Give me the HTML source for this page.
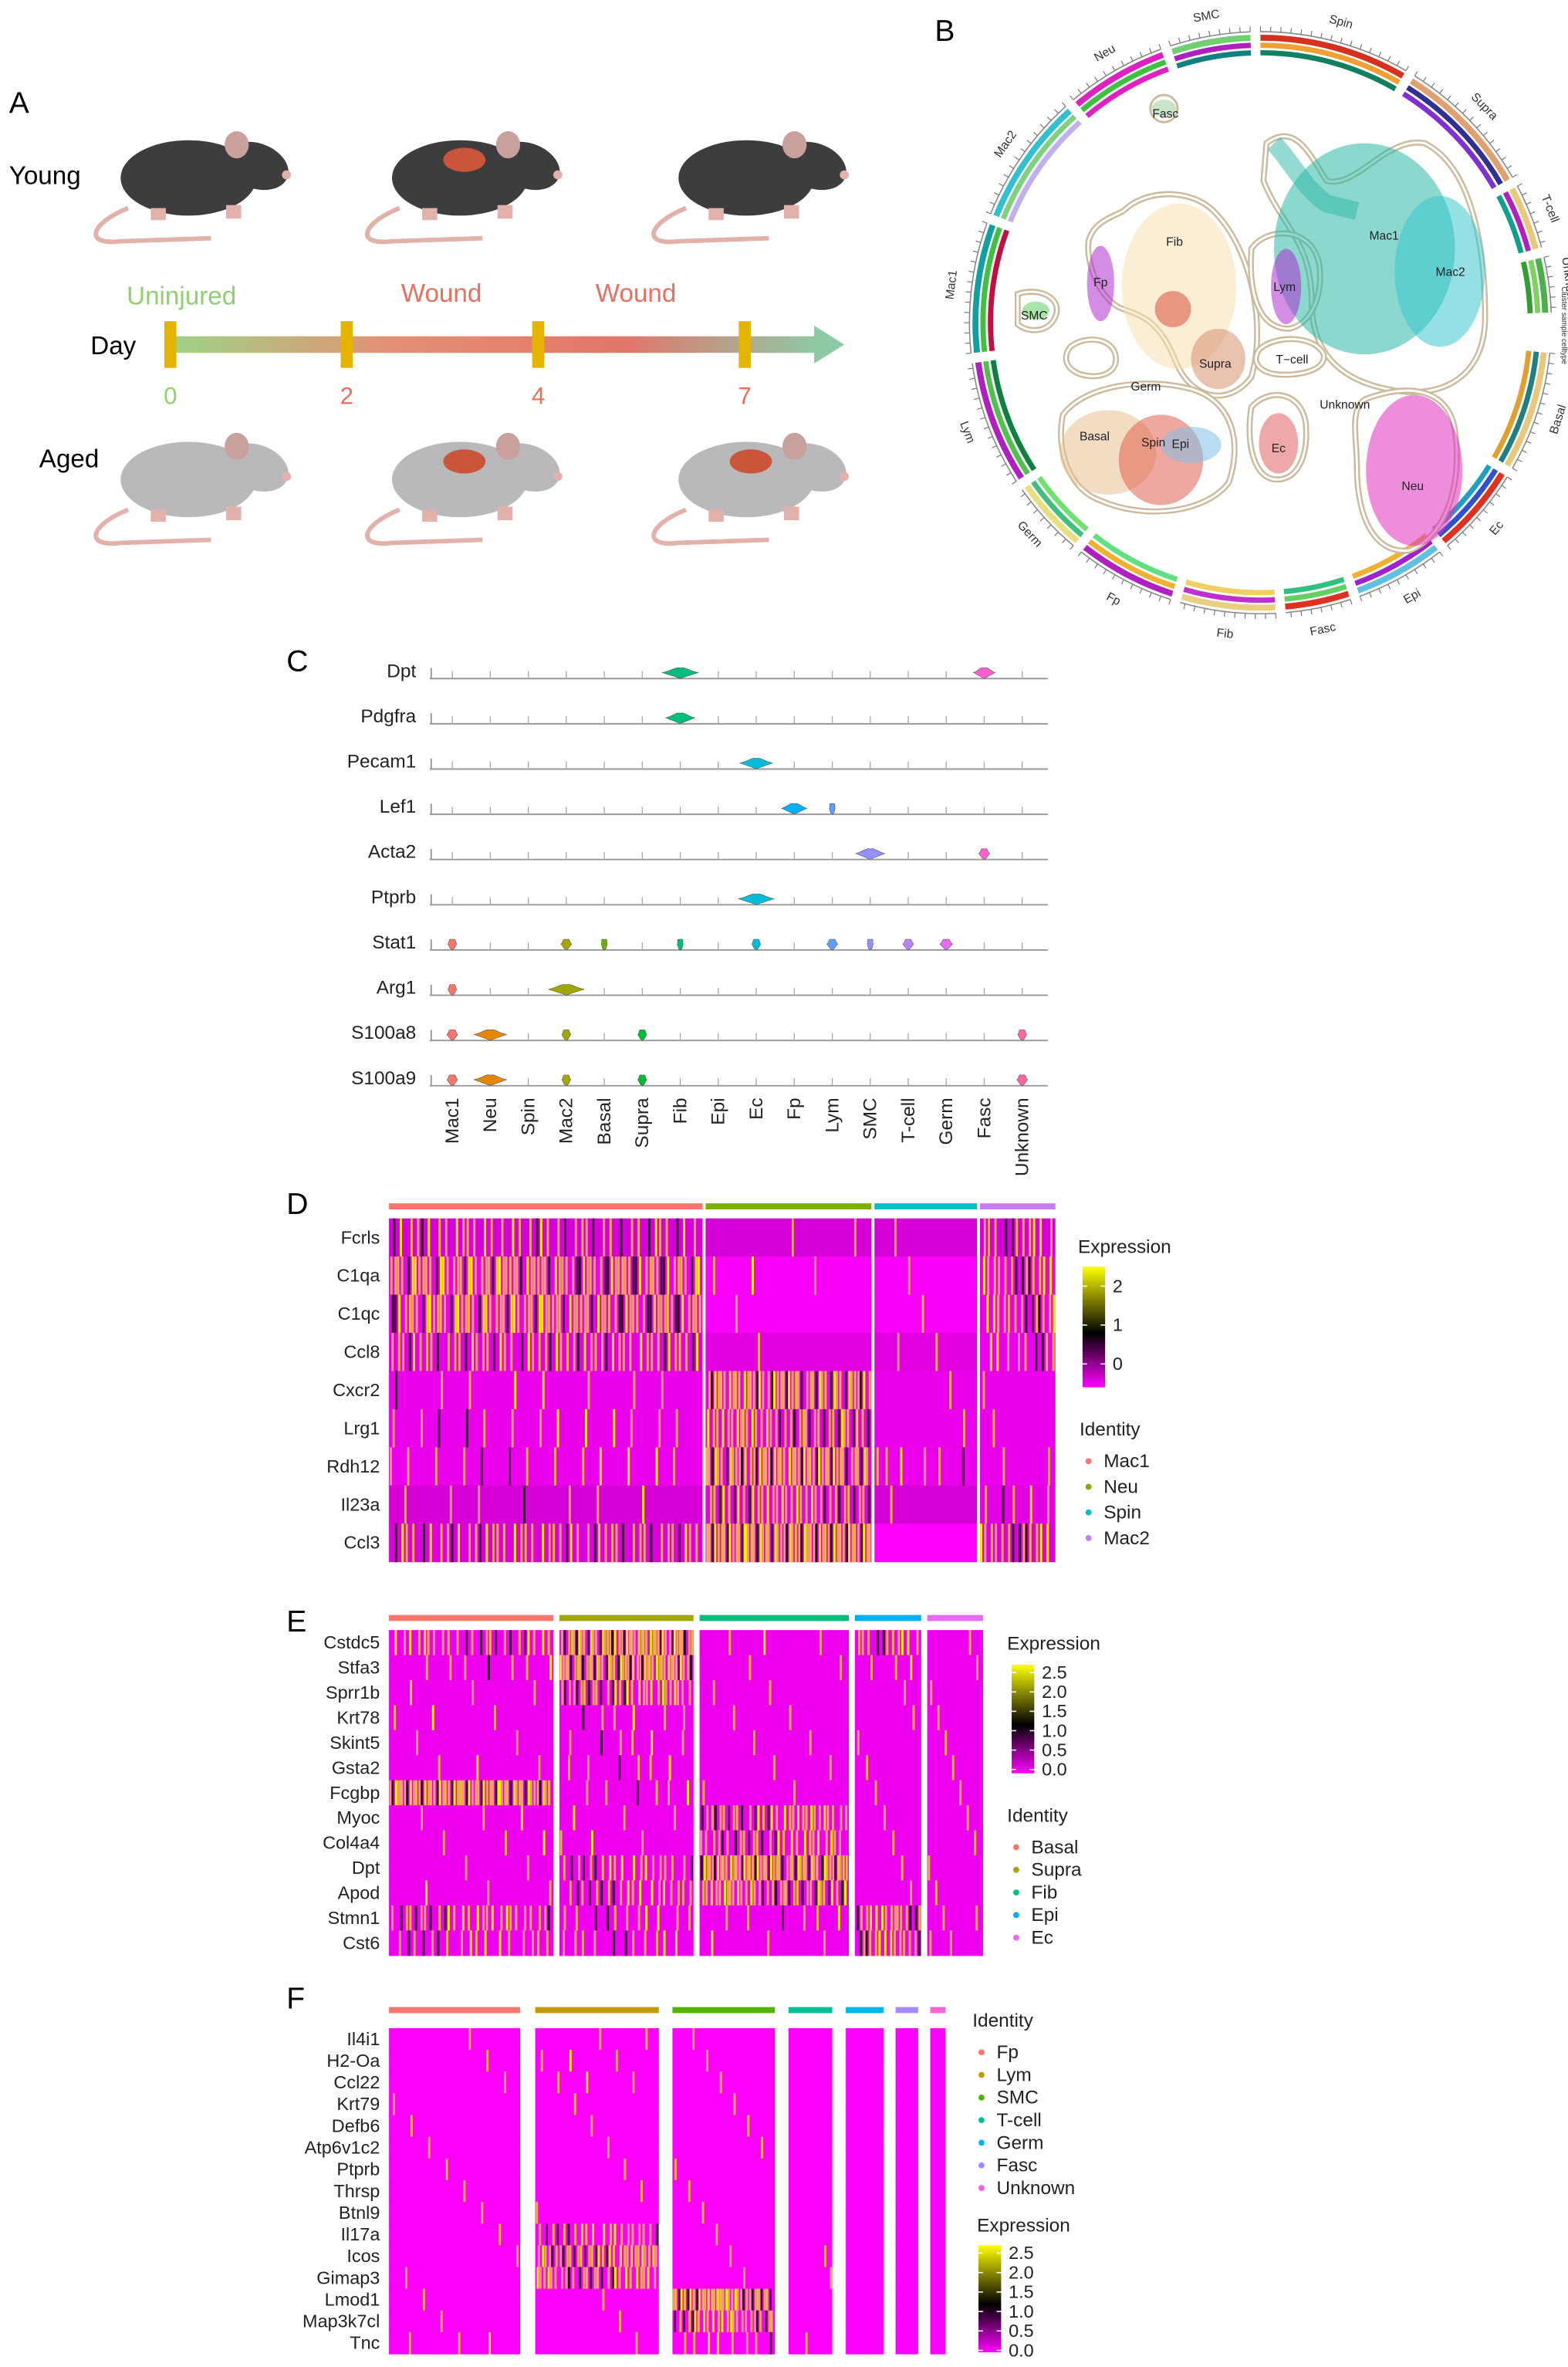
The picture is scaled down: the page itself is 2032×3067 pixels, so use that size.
<!DOCTYPE html>
<html><head><meta charset="utf-8"><style>
html,body{margin:0;padding:0;background:#fff;}
svg{display:block;font-family:"Liberation Sans",sans-serif;}
</style></head><body>
<svg id="fig" width="2032" height="3067" viewBox="0 0 1040 1569.7" preserveAspectRatio="none" xmlns="http://www.w3.org/2000/svg">
<defs>
<linearGradient id="tl" x1="0" x2="1" y1="0" y2="0">
<stop offset="0" stop-color="#9fd487"/><stop offset="0.35" stop-color="#e58f74"/><stop offset="0.7" stop-color="#e2766a"/><stop offset="1" stop-color="#8ec9a6"/></linearGradient>
<linearGradient id="cs" x1="0" x2="0" y1="1" y2="0">
<stop offset="0" stop-color="#ff00ff"/><stop offset="0.45" stop-color="#000"/><stop offset="1" stop-color="#ffff00"/></linearGradient>
</defs>
<g id="pa">
<text x="6" y="75" font-size="20">A</text>
<text x="6" y="122" font-size="17">Young</text>
<text x="26" y="310" font-size="17">Aged</text>
<text x="60" y="235" font-size="17">Day</text>
<text x="84" y="202" font-size="17" fill="#8fd071">Uninjured</text>
<text x="266" y="200" font-size="17" fill="#e8705f">Wound</text>
<text x="395" y="200" font-size="17" fill="#e8705f">Wound</text>
<rect x="113" y="223" width="430" height="11" fill="url(#tl)"/>
<polygon points="540,216 560,228.5 540,241" fill="#8ec9a6"/>
</g>
<g id="pb">
<text x="620" y="27" font-size="20">B</text>
</g>
<g id="pc">
<text x="190" y="445" font-size="20">C</text>
</g>
<g id="pd">
<text x="190" y="805" font-size="20">D</text>
</g>
<g id="pe">
<text x="190" y="1082" font-size="20">E</text>
</g>
<g id="pf">
<text x="190" y="1332" font-size="20">F</text>
</g>
</svg>
<script>
const NS="http://www.w3.org/2000/svg";
function mk(tag,parent,attrs){const e=document.createElementNS(NS,tag);for(const k in attrs)e.setAttribute(k,attrs[k]);parent.appendChild(e);return e;}

// ---------- Panel A data ----------
const dayTicks=[0,2,4,7];
const dayPos=[113,230,357,494];
const woundedYoung=[false,true,false];
const woundedAged=[false,true,true];
const pa=document.getElementById('pa');
dayTicks.forEach((d,i)=>{
  const r=mk('rect',pa,{x:dayPos[i]-4,y:213,width:8,height:31,fill:'#e5b400'});
  
  
  const t=mk('text',pa,{x:dayPos[i],y:268,'font-size':16,'text-anchor':'middle',fill:i==0?'#8fd071':'#e8705f'});
  t.textContent=d;
  
  
});
function mouse(cx,cy,col,wound,name){
  const g=mk('g',pa,{});
  
  
  mk('path',g,{d:`M${cx-45},${cy+20} C${cx-70},${cy+30} ${cx-75},${cy+45} ${cx-50},${cy+42} L${cx+10},${cy+40}`,fill:'none',stroke:'#e2b2aa','stroke-width':3});
  mk('ellipse',g,{cx:cx-5,cy:cy,rx:45,ry:25,fill:col});
  mk('ellipse',g,{cx:cx+40,cy:cy-8,rx:22,ry:15,fill:col,transform:`rotate(20 ${cx+40} ${cy-8})`});
  mk('ellipse',g,{cx:cx+27,cy:cy-22,rx:8,ry:9,fill:'#c9a09a'});
  mk('circle',g,{cx:cx+60,cy:cy-2,r:3,fill:'#e2b2aa'});
  mk('rect',g,{x:cx-30,y:cy+20,width:10,height:8,fill:'#e2b2aa'});
  mk('rect',g,{x:cx+20,y:cy+18,width:10,height:9,fill:'#e2b2aa'});
  if(wound) mk('ellipse',g,{cx:cx-2,cy:cy-12,rx:14,ry:8,fill:'#c9553a'});
}
[130,310,500].forEach((x,i)=>mouse(x,118,'#3d3d3f',woundedYoung[i],'young-mouse-'+i));
[130,310,500].forEach((x,i)=>mouse(x,318,'#b9b9bb',woundedAged[i],'aged-mouse-'+i));

// ---------- Panel B data ----------
const segNames=['Spin','Supra','T-cell','Unknown','Basal','Ec','Epi','Fasc','Fib','Fp','Germ','Lym','Mac1','Mac2','Neu','SMC'];
const segStart=[0,32,62,77,96,122,142,162,177,198,220,237,264,292,320,342];
const segEnd=[30,60,75,88,120,140,160,175,196,218,235,262,290,318,340,358];
const segOuter=['#d7301f','#e0a070','#e8c87a','#4cb04c','#e8c87a','#e03020','#60c0e0','#e03020','#e8d080','#b020c0','#e8e080','#b020c0','#10a0a0','#30c0d0','#e020c0','#70d070'];
const segMid=['#f0a030','#303090','#b020c0','#80d060','#208080','#3050d0','#a020d0','#60d060','#c030d0','#f0b030','#40c080','#50c050','#40c040','#80d080','#40c040','#b020c0'];
const segInner=['#108060','#8030d0','#10a090','#30a030','#e0a030','#20a0c0','#f0b030','#30c080','#f0d060','#60e080','#70e070','#108040','#c01040','#c0b0f0','#e020c0','#108080'];
const pb=document.getElementById('pb');
const CX=836,CY=214;
function arcPath(r,a0,a1){const t0=(a0-90)*Math.PI/180,t1=(a1-90)*Math.PI/180;
  return `M${CX+r*Math.cos(t0)},${CY+r*Math.sin(t0)} A${r},${r} 0 ${a1-a0>180?1:0} 1 ${CX+r*Math.cos(t1)},${CY+r*Math.sin(t1)}`;}
segNames.forEach((n,i)=>{
  const g=mk('g',pb,{});
  
  
  mk('path',g,{d:arcPath(193,segStart[i],segEnd[i]),stroke:'#888',fill:'none','stroke-width':0.8});
  for(let a=segStart[i];a<=segEnd[i];a+=2){const t=(a-90)*Math.PI/180;
    mk('line',g,{x1:CX+193*Math.cos(t),y1:CY+193*Math.sin(t),x2:CX+196.5*Math.cos(t),y2:CY+196.5*Math.sin(t),stroke:'#777','stroke-width':0.6});}
  mk('path',g,{d:arcPath(189,segStart[i],segEnd[i]),stroke:segOuter[i],fill:'none','stroke-width':4});
  mk('path',g,{d:arcPath(184,segStart[i],segEnd[i]),stroke:segMid[i],fill:'none','stroke-width':3.5});
  mk('path',g,{d:arcPath(179,segStart[i],segEnd[i]),stroke:segInner[i],fill:'none','stroke-width':3.5});
  const am=(segStart[i]+segEnd[i])/2,t=(am-90)*Math.PI/180,r=207;
  const x=CX+r*Math.cos(t),y=CY+r*Math.sin(t);
  let rot=am; if(am>90&&am<270) rot=am-180;
  const tx=mk('text',g,{x:x,y:y+3,'font-size':8,'text-anchor':'middle',fill:'#333',transform:`rotate(${rot} ${x} ${y})`});
  tx.textContent=n;
});
const clNames=['Mac1','Mac2','Neu','Fib','Fp','Lym','SMC','Basal','Spin','Epi','Ec','Supra','Fasc'];
const clX=[905,955,938,782,730,853,687,735,770,790,848,808,772];
const clY=[165,180,312,190,188,190,206,300,305,295,294,238,72];
const clRX=[60,30,32,38,9,10,9,32,28,20,13,18,8];
const clRY=[70,50,50,55,25,25,6,28,30,12,20,20,6];
const clCol=['#2cb8a8','#3cc6d0','#e030c0','#f6e0b0','#b030d0','#b030d0','#60d060','#e8c090','#e06050','#80c0e8','#e06060','#d89070','#a0d0a0'];
const clLabels=[[918,156,'Mac1'],[962,180,'Mac2'],[937,322,'Neu'],[779,160,'Fib'],[730,187,'Fp'],[852,190,'Lym'],[686,209,'SMC'],[726,289,'Basal'],[765,293,'Spin'],[783,294,'Epi'],[848,297,'Ec'],[806,241,'Supra'],[857,238,'T−cell'],[760,256,'Germ'],[892,268,'Unknown'],[773,75,'Fasc']];
[['M840,95 C860,80 870,105 880,120 C900,125 920,90 945,95 C975,110 985,160 985,210 C985,255 950,265 920,258 C880,250 870,225 870,200 C870,160 850,150 838,120 Z'],
 ['M905,265 C930,255 960,255 965,285 C970,320 960,355 935,365 C910,368 900,340 900,310 C900,290 895,272 905,265 Z'],
 ['M745,140 C760,125 790,125 805,140 C830,165 840,215 830,250 C815,270 790,265 780,240 C770,215 760,210 745,205 C730,200 720,175 722,160 C725,148 735,145 745,140 Z'],
 ['M705,275 C720,255 760,250 790,258 C815,265 825,290 815,320 C800,340 760,345 730,332 C710,325 700,300 705,275 Z'],
 ['M830,165 C840,150 870,150 875,175 C878,195 870,215 855,218 C835,218 828,195 830,165 Z'],
 ['M830,270 C840,258 862,258 866,280 C868,300 862,318 847,318 C832,318 826,295 830,270 Z'],
 ['M710,230 C720,222 738,224 740,236 C742,248 728,252 716,248 C706,244 705,236 710,230 Z'],
 ['M675,195 C690,190 705,198 700,210 C695,222 680,220 675,215 Z'],
 ['M835,232 C845,222 872,222 878,235 C880,246 860,250 845,248 C835,246 830,240 835,232 Z']
].forEach((p,i)=>{
  const e=mk('path',pb,{d:p[0],fill:'none',stroke:'#cbbb9c','stroke-width':4});
  
  
  mk('path',pb,{d:p[0],fill:'none',stroke:'#fff','stroke-width':1.5});
});
mk('circle',pb,{cx:772,cy:72,r:9,fill:'none',stroke:'#cbbb9c','stroke-width':1.5});
clNames.forEach((n,i)=>{
  const e=mk('ellipse',pb,{cx:clX[i],cy:clY[i],rx:clRX[i],ry:clRY[i],fill:clCol[i],opacity:0.55});
  
  
});
mk('path',pb,{d:'M845,95 C855,105 865,125 880,135 L900,140',stroke:'#2cb8a8','stroke-width':12,fill:'none',opacity:0.5});
mk('circle',pb,{cx:778,cy:205,r:12,fill:'#d85040',opacity:0.55});
clLabels.forEach(l=>{
  const t=mk('text',pb,{x:l[0],y:l[1]+3,'font-size':8,'text-anchor':'middle',fill:'#222'});
  t.textContent=l[2];
  
  
});
const lgT=mk('text',pb,{x:1036,y:190,'font-size':5,transform:'rotate(90 1036 190)',fill:'#333'});
lgT.textContent='Cluster sample celltype';

// ---------- Panel C data ----------
const cClusters=['Mac1','Neu','Spin','Mac2','Basal','Supra','Fib','Epi','Ec','Fp','Lym','SMC','T-cell','Germ','Fasc','Unknown'];
const cColors=['#f8766d','#e58700','#c99800','#a3a500','#6bb100','#00ba38','#00bf7d','#00c0af','#00bcd8','#00b0f6','#619cff','#9590ff','#b983ff','#e76bf3','#fd61d1','#ff67a4'];
const cGenes=['Dpt','Pdgfra','Pecam1','Lef1','Acta2','Ptprb','Stat1','Arg1','S100a8','S100a9'];
const cExpr=[
 [0,0,0,0,0,0,1.0,0,0,0,0,0,0,0,0.6,0],
 [0,0,0,0,0,0,0.8,0,0,0,0,0,0,0,0,0],
 [0,0,0,0,0,0,0,0,0.9,0,0,0,0,0,0,0],
 [0,0,0,0,0,0,0,0,0,0.7,0.1,0,0,0,0,0],
 [0,0,0,0,0,0,0,0,0,0,0,0.8,0,0,0.3,0],
 [0,0,0,0,0,0,0,0,1.0,0,0,0,0,0,0,0],
 [0.25,0,0,0.3,0.1,0,0.1,0,0.25,0,0.3,0.1,0.3,0.35,0,0],
 [0.25,0,0,1.0,0,0,0,0,0,0,0,0,0,0,0,0],
 [0.3,0.9,0,0.25,0,0.25,0,0,0,0,0,0,0,0,0,0.25],
 [0.3,0.9,0,0.25,0,0.25,0,0,0,0,0,0,0,0,0,0.3]];
const pc=document.getElementById('pc');
const cx0=300,cdx=25.2,cy0=449,cdy=30;
function cxp(i){return cx0+i*cdx;}
function cyp(g){return cy0+g*cdy;}
cGenes.forEach((g,gi)=>{
  const y=cyp(gi);
  const t=mk('text',pc,{x:276,y:y,'font-size':12.5,'text-anchor':'end',fill:'#222'});
  t.textContent=g;
  
  
  const l=mk('line',pc,{x1:285,x2:695,y1:y+1,y2:y+1,stroke:'#999','stroke-width':1});
  
  
  mk('line',pc,{x1:286,x2:286,y1:y-6,y2:y+1,stroke:'#999','stroke-width':1});
  cClusters.forEach((c,ci)=>{
    const x=cxp(ci),v=cExpr[gi][ci];
    mk('line',pc,{x1:x,x2:x,y1:y-4,y2:y+1,stroke:'#aaa','stroke-width':0.7});
    if(v>0){
      const w=Math.max(2,v*12),h=6;
      const p=mk('path',pc,{d:`M${x-w},${y-3} C${x-w*0.5},${y-4} ${x-3},${y-h-1} ${x},${y-h} C${x+3},${y-h-1} ${x+w*0.5},${y-4} ${x+w},${y-3} C${x+w*0.5},${y-1} ${x+2},${y} ${x},${y+1} C${x-2},${y} ${x-w*0.5},${y-1} ${x-w},${y-3} Z`,fill:cColors[ci],stroke:'#555','stroke-width':0.3});
      
      
    }
  });
});
cClusters.forEach((c,ci)=>{
  const x=cxp(ci)+4,y=728;
  const t=mk('text',pc,{x:x,y:y,'font-size':12.5,'text-anchor':'end',fill:'#222',transform:`rotate(-90 ${x} ${y})`});
  t.textContent=c;
  
  
});

// ---------- Heatmap helper ----------
function heatmap(parent,cfg){
  const {x0,y0,rowH,genes,groups,gx0,gx1,gcol,high,base,barY}=cfg;
  genes.forEach((g,ri)=>{
    const t=mk('text',parent,{x:x0-6,y:y0+ri*rowH+rowH/2+4,'font-size':12,'text-anchor':'end',fill:'#222'});
    t.textContent=g;
    
    
  });
  groups.forEach((gn,gi)=>{
    const xa=gx0[gi],xb=gx1[gi],w=xb-xa;
    const bar=mk('rect',parent,{x:xa,y:barY,width:w,height:4,fill:gcol[gi]});
    
    
    genes.forEach((g,ri)=>{
      const y=y0+ri*rowH,b=base[gi][ri];
      const r=Math.round(255-70*b),bl=Math.round(255-70*b);
      const cell=mk('rect',parent,{x:xa,y:y,width:w,height:rowH+0.3,fill:`rgb(${r},0,${bl})`});
      
      
      const N=Math.floor(w/1.6),n=Math.round(high[gi][ri]*N);
      const cols=['#f4b040','#e8a060','#ffee00','#3a003a','#f0a070'];
      for(let k=0;k<n;k++){
        const fx=((k+1)*0.6180339+ri*0.137+gi*0.29)%1;
        mk('rect',parent,{x:xa+fx*(w-1.5),y:y,width:1.5,height:rowH+0.3,fill:cols[k%5]});
      }
    });
  });
}
function colorbar(parent,x,y,h,ticks,vmin,vmax,name){
  const r=mk('rect',parent,{x:x,y:y,width:15,height:h,fill:'url(#cs)'});
  
  
  ticks.forEach(v=>{
    const yy=y+h-(v-vmin)/(vmax-vmin)*h;
    mk('line',parent,{x1:x,x2:x+3,y1:yy,y2:yy,stroke:'#fff','stroke-width':0.8});
    mk('line',parent,{x1:x+12,x2:x+15,y1:yy,y2:yy,stroke:'#fff','stroke-width':0.8});
    const t=mk('text',parent,{x:x+20,y:yy+4,'font-size':12,fill:'#222'});
    t.textContent=(Number.isInteger(v)&&ticks.length<4)?v:v.toFixed(1);
  });
}
function legend(parent,x,y,title,names,cols,dy){
  const t=mk('text',parent,{x:x,y:y,'font-size':12.5,fill:'#222'});
  t.textContent=title;
  
  
  names.forEach((n,i)=>{
    mk('circle',parent,{cx:x+6,cy:y+17+i*dy,r:2,fill:cols[i]});
    const tt=mk('text',parent,{x:x+16,y:y+21+i*dy,'font-size':12.5,fill:'#222'});
    tt.textContent=n;
    
    
  });
}

// ---------- Panel D data ----------
const dGenes=['Fcrls','C1qa','C1qc','Ccl8','Cxcr2','Lrg1','Rdh12','Il23a','Ccl3'];
const dGroups=['Mac1','Neu','Spin','Mac2'];
const dGroupCol=['#f8766d','#7cae00','#00bfc4','#c77cff'];
const dHigh=[[0.3,0.6,0.6,0.4,0.06,0.1,0.1,0.05,0.35],[0.03,0.04,0.02,0.02,0.7,0.55,0.75,0.5,0.85],[0.03,0.03,0.03,0.04,0.03,0.03,0.15,0.03,0.0],[0.35,0.45,0.45,0.3,0.02,0.03,0.05,0.15,0.45]];
const dBase=[[0.6,0.3,0.3,0.4,0.3,0.3,0.3,0.6,0.5],[0.6,0.1,0.1,0.4,0.3,0.4,0.3,0.4,0.5],[0.6,0.1,0.1,0.4,0.3,0.3,0.3,0.6,0.0],[0.6,0.3,0.3,0.3,0.3,0.3,0.3,0.4,0.5]];
const pd=document.getElementById('pd');
heatmap(pd,{x0:258,y0:808,rowH:25.3,genes:dGenes,groups:dGroups,gx0:[258,468,580,650],gx1:[466,578,648,700],gcol:dGroupCol,high:dHigh,base:dBase,barY:798});
let et=mk('text',pd,{x:715,y:831,'font-size':12.5,fill:'#222'});et.textContent='Expression';
colorbar(pd,718,840,80,[0,1,2],-0.6,2.5,'expression-colorbar-d');
legend(pd,716,952,'Identity',dGroups,dGroupCol,17);

// ---------- Panel E data ----------
const eGenes=['Cstdc5','Stfa3','Sprr1b','Krt78','Skint5','Gsta2','Fcgbp','Myoc','Col4a4','Dpt','Apod','Stmn1','Cst6'];
const eGroups=['Basal','Supra','Fib','Epi','Ec'];
const eGroupCol=['#f8766d','#a3a500','#00bf7d','#00b0f6','#e76bf3'];
const eHigh=[[0.35,0.1,0.05,0.05,0.03,0.05,0.85,0.05,0.05,0.03,0.05,0.4,0.25],[0.85,0.85,0.55,0.1,0.1,0.1,0.1,0.05,0.05,0.35,0.35,0.2,0.2],[0.05,0.03,0.03,0.03,0.03,0.03,0.03,0.5,0.45,0.85,0.6,0.1,0.05],[0.4,0.1,0.05,0.05,0.05,0.05,0.05,0.05,0.05,0.05,0.05,0.55,0.5],[0.04,0.04,0.04,0.04,0.04,0.04,0.04,0.04,0.04,0.04,0.04,0.1,0.1]];
const eBase=eGroups.map(()=>eGenes.map(()=>0.25));
const pe=document.getElementById('pe');
heatmap(pe,{x0:258,y0:1081,rowH:16.6,genes:eGenes,groups:eGroups,gx0:[258,371,464,567,615],gx1:[367,460,563,611,652],gcol:eGroupCol,high:eHigh,base:eBase,barY:1071});
et=mk('text',pe,{x:668,y:1094,'font-size':12.5,fill:'#222'});et.textContent='Expression';
colorbar(pe,671,1104,72,[0,0.5,1,1.5,2,2.5],-0.1,2.7,'expression-colorbar-e');
legend(pe,668,1208,'Identity',eGroups,eGroupCol,15);

// ---------- Panel F data ----------
const fGenes=['Il4i1','H2-Oa','Ccl22','Krt79','Defb6','Atp6v1c2','Ptprb','Thrsp','Btnl9','Il17a','Icos','Gimap3','Lmod1','Map3k7cl','Tnc'];
const fGroups=['Fp','Lym','SMC','T-cell','Germ','Fasc','Unknown'];
const fGroupCol=['#f8766d','#c49a00','#53b400','#00c094','#00b6eb','#a58aff','#fb61d7'];
const fHigh=[[0.02,0.02,0.02,0.02,0.02,0.02,0.02,0.02,0.02,0.02,0.02,0.02,0.02,0.02,0.06],[0.03,0.06,0.05,0.02,0.02,0.02,0.02,0.02,0.02,0.4,0.65,0.55,0.02,0.02,0.02],[0.02,0.02,0.02,0.02,0.02,0.02,0.02,0.02,0.02,0.02,0.02,0.02,0.85,0.6,0.2],[0.02,0.02,0.02,0.02,0.02,0.02,0.02,0.02,0.02,0.02,0.05,0.03,0.02,0.02,0.05],[0,0,0,0,0,0,0,0,0,0,0,0,0,0,0],[0,0,0,0,0,0,0,0,0,0,0,0,0,0,0],[0,0,0,0,0,0,0,0,0,0,0,0,0,0,0]];
const fBase=fGroups.map(()=>fGenes.map(()=>0.05));
const pf=document.getElementById('pf');
heatmap(pf,{x0:258,y0:1345,rowH:14.4,genes:fGenes,groups:fGroups,gx0:[258,355,446,523,561,594,617],gx1:[345,437,514,552,586,609,627],gcol:fGroupCol,high:fHigh,base:fBase,barY:1331});
legend(pf,645,1344,'Identity',fGroups,fGroupCol,15);
et=mk('text',pf,{x:648,y:1480,'font-size':12.5,fill:'#222'});et.textContent='Expression';
colorbar(pf,649,1489,71,[0,0.5,1,1.5,2,2.5],-0.05,2.7,'expression-colorbar-f');
</script>
</body></html>
